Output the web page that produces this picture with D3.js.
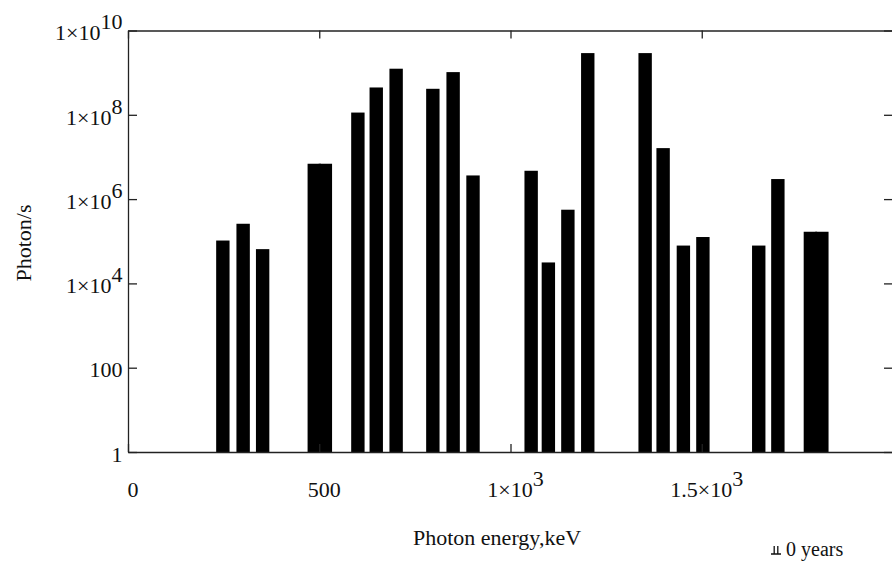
<!DOCTYPE html>
<html><head><meta charset="utf-8">
<script src="https://cdn.jsdelivr.net/npm/d3@7"></script>
<style>
body{margin:0;background:#fff}
svg{display:block}
text{font-family:"Liberation Serif","Times New Roman",serif;fill:#111}
</style>
</head><body><svg id="c" width="892" height="563"></svg>
<script>
// ---- data ----
const energies = [248,301,352,487,516,601,649,701,797,850,902,1054,1099,1150,1202,1352,1399,1452,1503,1649,1699,1784,1814];
const photonRates = [1.04e5,2.6e5,6.5e4,6.9e6,6.9e6,1.13e8,4.45e8,1.24e9,4.14e8,1.03e9,3.64e6,4.7e6,3.14e4,5.6e5,2.91e9,2.91e9,1.62e7,7.9e4,1.26e5,7.9e4,2.99e6,1.68e5,1.68e5];
const xTicks = [0,500,1000,1500];
const xTickBase = ["0","500","1\u00d710","1.5\u00d710"];
const xTickExp = ["","","3","3"];
const yTicks = [1,100,1e4,1e6,1e8,1e10];
const yTickBase = ["1","100","1\u00d710","1\u00d710","1\u00d710","1\u00d710"];
const yTickExp = ["","","4","6","8","10"];
const xTitle = "Photon energy,keV";
const yTitle = "Photon/s";
const legendLabel = "0 years";

// ---- layout ----
const svg = d3.select("#c");
const L = 128, R = 893, T = 30.5, B = 452;
const x = d3.scaleLinear().domain([0,2000]).range([L,R]);
const y = d3.scaleLog().domain([1,1e10]).range([B,T]);
const barW = x(35) - x(0);
const axisColor = "#222";

const data = energies.map((e,i)=>({e, v: photonRates[i]}));

// bars
svg.append("g").selectAll("rect").data(data).join("rect")
  .attr("x", d => x(d.e) - barW/2)
  .attr("width", barW)
  .attr("y", d => y(d.v))
  .attr("height", d => B - y(d.v))
  .attr("fill", "#000");

function styleAxis(g){
  g.selectAll("path,line").attr("stroke", axisColor).attr("stroke-width", 1.3);
  g.selectAll("text").remove();
}
svg.append("g").attr("transform",`translate(${L},0)`)
  .call(d3.axisLeft(y).tickValues(yTicks).tickSizeInner(-9).tickSizeOuter(0).tickFormat(""))
  .call(styleAxis);
svg.append("g").attr("transform",`translate(${R},0)`)
  .call(d3.axisRight(y).tickValues(yTicks).tickSizeInner(-9).tickSizeOuter(0).tickFormat(""))
  .call(styleAxis);
svg.append("g").attr("transform",`translate(0,${B})`)
  .call(d3.axisBottom(x).tickValues(xTicks).tickSizeInner(-8).tickSizeOuter(0).tickFormat(""))
  .call(styleAxis);
svg.append("g").attr("transform",`translate(0,${T})`)
  .call(d3.axisTop(x).tickValues(xTicks).tickSizeInner(-8).tickSizeOuter(0).tickFormat(""))
  .call(styleAxis);

const fs = 22;
// y tick labels
yTicks.forEach((t,i)=>{
  const tx = svg.append("text").attr("x", 122.5).attr("y", y(t) + 9.7)
    .attr("text-anchor","end").style("font-size", fs+"px");
  tx.append("tspan").text(yTickBase[i]);
  if (yTickExp[i]) tx.append("tspan").attr("dy", -11).text(yTickExp[i]);
});
// x tick labels
xTicks.forEach((t,i)=>{
  const tx = svg.append("text").attr("x", x(t) + 5).attr("y", 496.5)
    .attr("text-anchor","middle").style("font-size", fs+"px");
  tx.append("tspan").text(xTickBase[i]);
  if (xTickExp[i]) tx.append("tspan").attr("dy", -11).text(xTickExp[i]);
});

// axis titles
svg.append("text").attr("x", 413).attr("y", 545).attr("text-anchor","start")
  .style("font-size", "22px").text(xTitle);
svg.append("text").attr("transform","translate(31,243) rotate(-90)").attr("text-anchor","middle")
  .style("font-size", "22px").text(yTitle);

// legend
const lg = svg.append("g").attr("transform","translate(776,554)");
lg.append("path").attr("d","M-5,0H5M-1.8,0V-8M1.8,0V-8").attr("stroke","#111").attr("stroke-width",1.3).attr("fill","none");
lg.append("text").attr("x", 10).attr("y", 2).style("font-size","20px").text(legendLabel);
</script>
</body></html>
